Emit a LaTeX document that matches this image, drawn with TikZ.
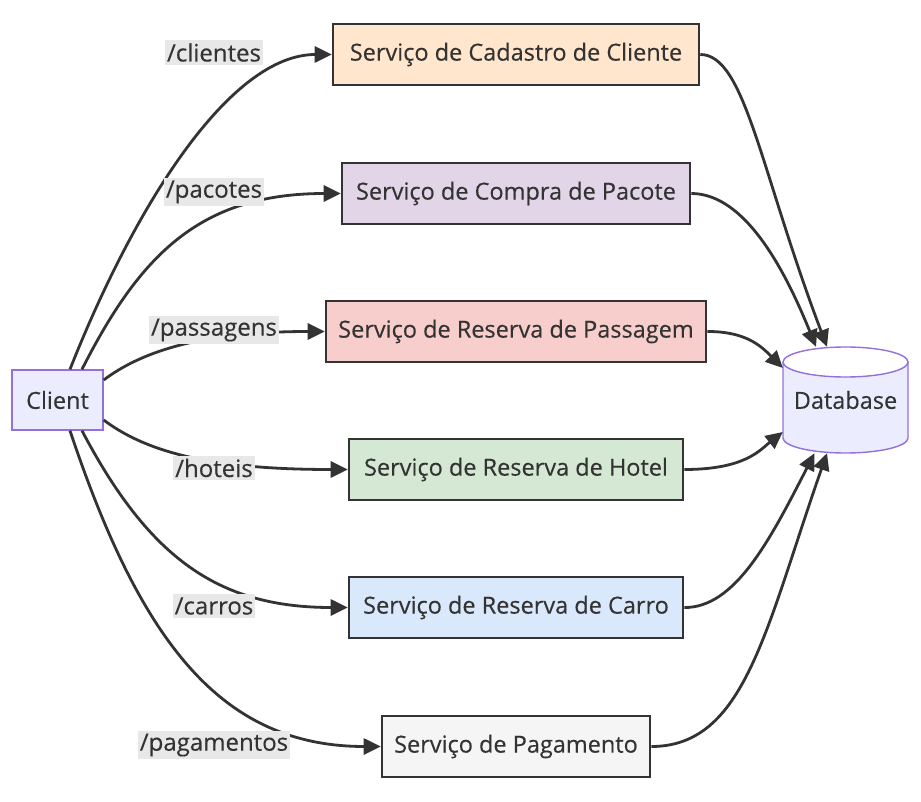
\documentclass[tikz,border=0pt]{standalone}
\usepackage{fontspec}
\setmainfont{Open Sans}[UprightFeatures={FakeBold=0.35}]
\usetikzlibrary{arrows.meta}
\definecolor{txt}{HTML}{333333}
\definecolor{cfill}{HTML}{ECECFF}
\definecolor{cstroke}{HTML}{9370DB}
\definecolor{lblbg}{HTML}{E8E8E8}
\definecolor{c1}{HTML}{FFE6CC}
\definecolor{c2}{HTML}{E1D5E7}
\definecolor{c3}{HTML}{F8CECC}
\definecolor{c4}{HTML}{D5E8D4}
\definecolor{c5}{HTML}{DAE8FC}
\definecolor{c6}{HTML}{F5F5F5}
\tikzset{
  svc/.style={draw=txt, line width=2.6pt, minimum height=61pt, inner sep=0pt, text=txt, font=\fontsize{23.5}{28}\selectfont},
  clientbox/.style={draw=cstroke, fill=cfill, line width=1.4pt, minimum width=91pt, minimum height=60pt, inner sep=0pt, text=txt, font=\fontsize{23.5}{28}\selectfont},
  lbl/.style={fill=lblbg, inner xsep=2pt, inner ysep=3pt, text=txt, font=\fontsize{24}{28}\selectfont},
  conn/.style={draw=txt, line width=2.8pt, -{Triangle[length=17pt,width=16pt]}},
}
\begin{document}
\begin{tikzpicture}[x=1pt,y=-1pt]
\useasboundingbox (0,0) rectangle (921,802);
% nodes
\node[clientbox] (client) at (57.5,400) {Client};
\node[svc, fill=c1, minimum width=366pt] (s1) at (516,54.5) {Serviço de Cadastro de Cliente};
\node[svc, fill=c2, minimum width=348pt] (s2) at (516,193.5) {Serviço de Compra de Pacote};
\node[svc, fill=c3, minimum width=380pt] (s3) at (516,331.5) {Serviço de Reserva de Passagem};
\node[svc, fill=c4, minimum width=334pt] (s4) at (516,469.5) {Serviço de Reserva de Hotel};
\node[svc, fill=c5, minimum width=334pt] (s5) at (516,607.5) {Serviço de Reserva de Carro};
\node[svc, fill=c6, minimum width=268pt] (s6) at (516,746.5) {Serviço de Pagamento};
% database cylinder
\fill[cfill] (783,362) -- (783,438) arc[start angle=180, end angle=360, x radius=62.5, y radius=-15] -- (908,362) arc[start angle=0, end angle=180, x radius=62.5, y radius=15] -- cycle;
\draw[cstroke, line width=1.4pt] (783,362) -- (783,438) arc[start angle=180, end angle=360, x radius=62.5, y radius=-15] -- (908,362);
\draw[cstroke, line width=1.4pt] (845.5,362) ellipse[x radius=62.5, y radius=15];
\node[inner sep=0pt, minimum width=125pt, minimum height=106pt, text=txt, font=\fontsize{23.5}{28}\selectfont] (db) at (845.5,400) {Database};
% client -> services
\draw[conn] ([xshift=12.5pt]client.north) .. controls (135,205) and (230,54.5) .. (s1.west);
\draw[conn] ([xshift=24.5pt]client.north) .. controls (140,255) and (200,193.5) .. (s2.west);
\draw[conn] ([yshift=20pt]client.east) .. controls (150,345) and (220,331.5) .. (s3.west);
\draw[conn] ([yshift=-20pt]client.east) .. controls (150,455) and (220,469.5) .. (s4.west);
\draw[conn] ([xshift=24.5pt]client.south) .. controls (150,560) and (220,607.5) .. (s5.west);
\draw[conn] ([xshift=12.5pt]client.south) .. controls (140,640) and (220,746.5) .. (s6.west);
% services -> database
\draw[conn] (s1.east) .. controls (745,54.5) and (760,170) .. ([xshift=-18.5pt]db.north);
\draw[conn] (s2.east) .. controls (745,193.5) and (785,270) .. ([xshift=-29.5pt]db.north);
\draw[conn] (s3.east) .. controls (745,331.5) and (760,345) .. ([yshift=32pt]db.west);
\draw[conn] (s4.east) .. controls (745,469.5) and (760,450) .. ([yshift=-32pt]db.west);
\draw[conn] (s5.east) .. controls (735,608) and (770,540) .. ([xshift=-31pt]db.south);
\draw[conn] (s6.east) .. controls (745,746.5) and (765,630) .. ([xshift=-18.5pt]db.south);
% labels
\node[lbl] (l1) at (214,52.5) {/clientes};
\node[lbl] (l2) at (214,192) {/pacotes};
\node[lbl] (l3) at (214,330) {/passagens};
\node[lbl] (l4) at (214,468) {/hoteis};
\node[lbl] (l5) at (214,606) {/carros};
\node[lbl] (l6) at (214,745) {/pagamentos};
\end{tikzpicture}
\end{document}
